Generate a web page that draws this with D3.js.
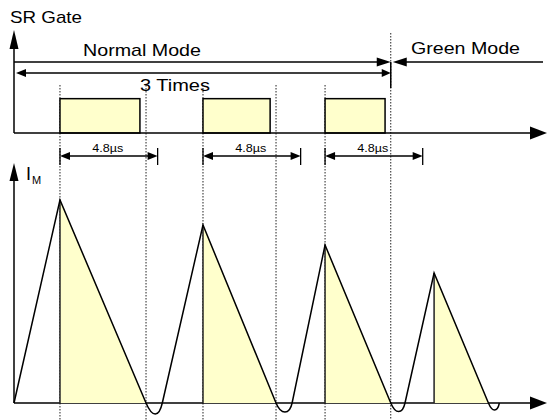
<!DOCTYPE html>
<html>
<head>
<meta charset="utf-8">
<script src="https://cdn.jsdelivr.net/npm/d3@7"></script>
<style>
  body { margin: 0; background: #fff; }
  text { font-family: 'Liberation Sans', Arial, sans-serif; fill: #000; }
</style>
</head>
<body>
<script>
// time in µs, gate level 0/1, current in arbitrary units
const gateOn = [2.26, 9.29, 15.29]
const gateOff = [6.19, 12.59, 18.24]
const peakT = [2.26, 9.29, 15.29, 20.65]
const peakI = [1.015, 0.89, 0.79, 0.65]
const zeroT = [6.49, 12.88, 18.52, 23.32]   // where the falling ramp crosses zero
const dipI = [-0.055, -0.045, -0.043, -0.035] // undershoot below zero
const riseT = [7.29, 13.67, 19.22, 23.86]   // where the current comes back to zero
const blankT = 4.8
const blankLabel = '4.8µs'
const modeLabels = ['Normal Mode', 'Green Mode']
const countLabel = '3 Times'
const gateLabel = 'SR Gate'
const curLabel = ['I', 'M']

const W = 547, H = 420
const svg = d3.select('body').append('svg')
    .attr('width', W)
    .attr('height', H)

// scales
const x = d3.scaleLinear().domain([0, 26.2]).range([14, 547])
const gateY = d3.scaleLinear().domain([0, 3]).range([133, 30])
const curY = d3.scaleLinear().domain([0, 1.2]).range([403, 163])

const modeT = zeroT[2] // normal -> green boundary
const rowMode = 62, rowCount = 73, rowDim = 156

// filled triangle with the tip at (tx, ty)
function arrowHead(tx, ty, dir, len, wid) {
    const h = wid / 2
    let pts
    if (dir === 'up') pts = [[tx, ty], [tx - h, ty + len], [tx + h, ty + len]]
    if (dir === 'down') pts = [[tx, ty], [tx - h, ty - len], [tx + h, ty - len]]
    if (dir === 'left') pts = [[tx, ty], [tx + len, ty - h], [tx + len, ty + h]]
    if (dir === 'right') pts = [[tx, ty], [tx - len, ty - h], [tx - len, ty + h]]
    svg.append('path').attr('d', d3.line()(pts) + 'Z').attr('fill', '#000')
}
function seg(x1, y1, x2, y2, w = 1.5, color = '#000') {
    return svg.append('line')
        .attr('x1', x1).attr('y1', y1).attr('x2', x2).attr('y2', y2)
        .attr('stroke', color).attr('stroke-width', w)
}

// dotted guide lines
const guides = peakT.slice(0, 3).concat(zeroT.slice(0, 2))
guides.forEach(t => seg(x(t), 85, x(t), H, 1, '#222').attr('stroke-dasharray', '1.5,1.5'))
seg(x(modeT), 33, x(modeT), H, 1, '#222').attr('stroke-dasharray', '1.5,1.5')

// gate pulses
svg.selectAll('.pulse')
    .data(gateOn)
    .join('rect')
        .attr('x', (d, i) => x(d))
        .attr('y', gateY(1))
        .attr('width', (d, i) => x(gateOff[i]) - x(d))
        .attr('height', gateY(0) - gateY(1))
        .attr('fill', '#ffffcc')
        .attr('stroke', '#000')
        .attr('stroke-width', 1.5)

// gate axes
seg(x(0), gateY(0), W - 10, gateY(0))
arrowHead(W, gateY(0), 'right', 17, 13)
seg(x(0), gateY(0), x(0), gateY(3) + 10)
arrowHead(x(0), gateY(3), 'up', 19, 9)

// current axes
seg(x(0), curY(0), W - 10, curY(0))
arrowHead(W, curY(0), 'right', 17, 13)
seg(x(0), curY(0), x(0), curY(1.2) + 10)
arrowHead(x(0), curY(1.2), 'up', 18, 9)

// shaded falling part of each cycle
svg.selectAll('.tri')
    .data(peakT)
    .join('path')
        .attr('d', (d, i) => d3.line()([[x(d), curY(peakI[i])], [x(zeroT[i]), curY(0)], [x(d), curY(0)]]) + 'Z')
        .attr('fill', '#ffffcc')
peakT.forEach((t, i) => seg(x(t), curY(peakI[i]), x(t), curY(0), 1.5, '#222'))

// current waveform: linear ramps, smooth undershoot between them
const p = d3.path()
p.moveTo(x(0), curY(0))
let upSlope = 0
peakT.forEach((t, i) => {
    p.lineTo(x(t), curY(peakI[i]))
    p.lineTo(x(zeroT[i]), curY(0))
    const ax = x(zeroT[i]), bx = x(riseT[i])
    const depth = curY(dipI[i] / 0.75) - curY(0)
    const downSlope = (curY(0) - curY(peakI[i])) / (ax - x(t))
    if (i < peakT.length - 1) upSlope = (curY(0) - curY(peakI[i + 1])) / (x(peakT[i + 1]) - bx)
    p.bezierCurveTo(ax + depth / downSlope, curY(0) + depth,
                    bx - depth / upSlope, curY(0) + depth,
                    bx, curY(0))
})
svg.append('path')
    .attr('d', p.toString())
    .attr('fill', 'none')
    .attr('stroke', '#000')
    .attr('stroke-width', 1.5)

// normal / green mode arrows
seg(x(0), rowMode, x(modeT) - 10, rowMode, 1.3)
arrowHead(x(modeT), rowMode, 'right', 14, 9)
seg(x(modeT) + 12, rowMode, 543, rowMode, 1.3)
arrowHead(x(modeT) + 2, rowMode, 'left', 14, 9)
seg(x(modeT), rowMode, x(modeT), 88, 1.5)

// 3 times arrow
seg(x(0) + 6, rowCount, x(modeT) - 6, rowCount, 1.3)
arrowHead(x(0) + 2, rowCount, 'left', 10, 8)
arrowHead(x(modeT), rowCount, 'right', 9, 8)

// 4.8µs blanking dimensions
peakT.slice(0, 3).forEach(t => {
    const x0 = x(t), x1 = x(t + blankT)
    seg(x0 + 6, rowDim, x1 - 6, rowDim, 1.3)
    arrowHead(x0, rowDim, 'left', 10, 8)
    arrowHead(x1, rowDim, 'right', 10, 8)
    seg(x0, rowDim - 8, x0, rowDim + 9, 1.3)
    seg(x1, rowDim - 8, x1, rowDim + 9, 1.3)
    svg.append('text')
        .attr('x', (x0 + x1) / 2 - 1)
        .attr('y', rowDim - 4)
        .attr('text-anchor', 'middle')
        .attr('font-size', 11)
        .attr('textLength', 31)
        .attr('lengthAdjust', 'spacingAndGlyphs')
        .text(blankLabel)
})

// labels
function label(str, lx, ly, size, len) {
    const t = svg.append('text').attr('x', lx).attr('y', ly).attr('font-size', size).text(str)
    if (len) t.attr('textLength', len).attr('lengthAdjust', 'spacingAndGlyphs')
    return t
}
label(gateLabel, 10, 23, 17, 72)
label(modeLabels[0], 83, 56, 17, 118)
label(modeLabels[1], 411, 54, 17, 109)
label(countLabel, 140, 91, 17, 70)
label(curLabel[0], 26, 180, 18)
label(curLabel[1], 32, 184, 11)
</script>
</body>
</html>
